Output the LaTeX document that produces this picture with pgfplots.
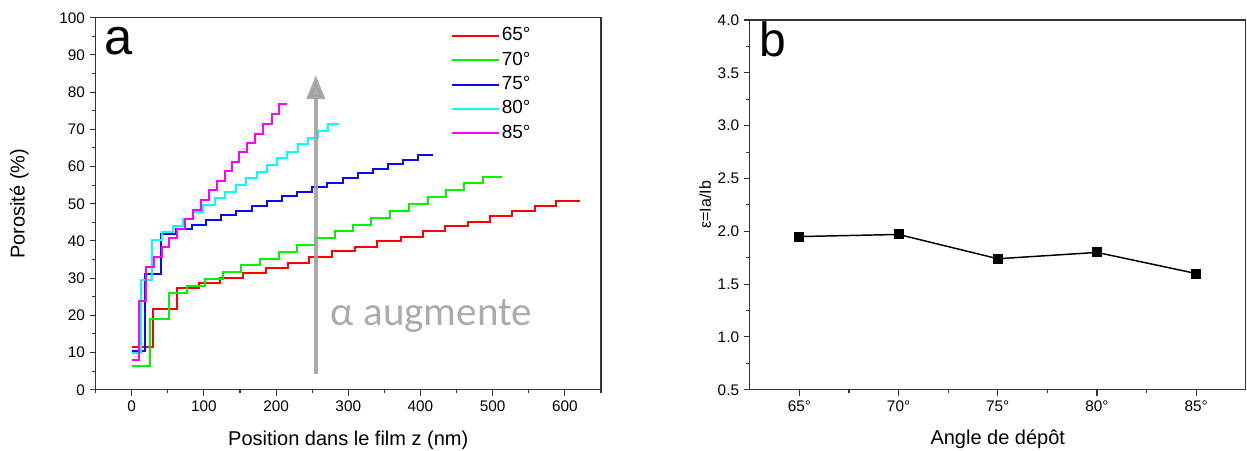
\documentclass[border=0pt]{standalone}
\usepackage{pgfplots}
\pgfplotsset{compat=1.18}
\usepackage{fontspec}
\setmainfont{Liberation Sans}
\newfontfamily\calfont{Carlito}
\usetikzlibrary{arrows.meta}
\definecolor{cred}{RGB}{255,0,0}
\definecolor{cgreen}{RGB}{0,245,0}
\definecolor{cblue}{RGB}{10,10,240}
\definecolor{ccyan}{RGB}{0,255,255}
\definecolor{cmag}{RGB}{255,0,255}
\pgfplotsset{myaxis/.style={
  scale only axis,
  axis line style={black!80, line width=0.9pt},
  tick align=outside, tick pos=left,
  major tick length=4.5pt, minor tick length=2.6pt,
  every tick/.style={black!80, line width=0.8pt},
  tick label style={font=\fontsize{11.5}{13}\selectfont},
  label style={font=\fontsize{15}{17}\selectfont},
  /pgf/number format/assume math mode=true,
}}
\begin{document}
\begin{tikzpicture}
\path[use as bounding box] (-71.7pt,-45.2pt) rectangle (863.5pt,292.3pt);
\begin{axis}[myaxis,
  at={(0pt,0pt)}, anchor=south west,
  width=379pt, height=279pt,
  xmin=-50, xmax=650, ymin=0, ymax=100,
  xtick={0,100,...,600}, minor xtick={-50,50,...,650},
  ytick={0,10,...,100}, minor ytick={5,15,...,95},
  xlabel={Position dans le film z (nm)},
  ylabel={Porosité (\%)},
  xlabel style={at={(axis description cs:0.5,-0.135)}, anchor=center},
  ylabel style={at={(axis description cs:-0.151,0.5)}, anchor=center, rotate=0},
  legend style={at={(rel axis cs:0.703,0.985)}, anchor=north west, draw=none, fill=none,
    font=\fontsize{14.25}{16}\selectfont, inner sep=0pt, row sep=0pt,
    nodes={inner ysep=2.4pt, inner xsep=1.5pt, text height=10.5pt, text depth=3pt}},
  legend cell align=left,
  legend image code/.code={\draw[#1, line width=1.5pt] (0pt,0pt) -- (35pt,0pt);},
]
\addplot[const plot, cred, line width=1.5pt] coordinates {
(0,11.6)(29,21.8)(63,27.4)(93,28.6)(122,30.0)(154,31.4)(186,32.8)(216,34.2)(246,35.6)(278,37.2)(309,38.4)(340,39.9)(373,41.1)(404,42.6)(434,43.9)(466,45.2)(496,46.6)(527,48.0)(558,49.5)(588,50.8)(621,50.8)};
\addplot[const plot, cgreen, line width=1.5pt] coordinates {
(0,6.3)(25,18.9)(51,26.1)(77,28.0)(102,29.8)(127,31.6)(152,33.5)(178,35.2)(204,37.1)(229,39.0)(254,40.8)(281,42.6)(307,44.4)(332,46.3)(358,48.1)(384,50.0)(410,51.9)(435,53.7)(460,55.5)(487,57.3)(513,57.3)};
\addplot[const plot, cblue, line width=1.5pt] coordinates {
(0,10.3)(19,31.1)(41,42.0)(62,43.2)(83,44.4)(103,45.7)(124,46.9)(145,48.1)(166,49.5)(187,50.8)(208,52.0)(229,53.2)(250,54.4)(271,55.6)(292,56.9)(313,58.2)(334,59.4)(355,60.6)(376,61.8)(397,63.1)(418,63.1)};
\addplot[const plot, ccyan, line width=1.5pt] coordinates {
(0,9.8)(13,29.6)(28,40.3)(42,42.3)(57,44.0)(71,46.0)(85,47.9)(99,49.7)(115,51.5)(129,53.2)(144,55.1)(158,56.8)(173,58.6)(187,60.4)(201,62.2)(215,64.0)(230,66.0)(244,67.8)(258,69.6)(272,71.4)(287,71.4)};
\addplot[const plot, cmag, line width=1.5pt] coordinates {
(0,8.0)(10,23.9)(20,33.1)(31,35.7)(42,38.3)(52,40.9)(63,43.2)(74,46.0)(85,48.4)(96,51.0)(107,53.7)(118,56.2)(129,58.9)(139,61.3)(149,63.8)(160,66.2)(171,68.7)(182,71.4)(194,74.1)(204,76.8)(215,76.8)};
\legend{65°,70°,75°,80°,85°}
\draw[-{Triangle[length=18pt,width=13.5pt]}, line width=3pt, draw=black!37, fill=black!37, opacity=0.9] (axis cs:255,4.2) -- (axis cs:255,84.6);
\node[anchor=base west, text=black!33, font=\calfont\fontsize{30.75}{32}\selectfont, inner sep=0pt] at (axis cs:275.6,17.4) {α augmente};
\node[anchor=base west, font=\fontsize{38}{40}\selectfont, inner sep=0pt] at (axis cs:-38.4,90) {a};
\end{axis}
\begin{axis}[myaxis,
  at={(490.6pt,0pt)}, anchor=south west,
  width=372pt, height=277.3pt,
  xmin=62.5, xmax=87.5, ymin=0.5, ymax=4.0,
  xtick={65,70,75,80,85}, xticklabels={65°,70°,75°,80°,85°},
  minor xtick={67.5,72.5,77.5,82.5},
  ytick={0.5,1.0,1.5,2.0,2.5,3.0,3.5,4.0},
  minor ytick={0.75,1.25,1.75,2.25,2.75,3.25,3.75},
  yticklabel style={/pgf/number format/.cd, fixed, fixed zerofill, precision=1},
  xlabel={Angle de dépôt},
  ylabel={ε=Ia/Ib},
  xlabel style={at={(axis description cs:0.5,-0.135)}, anchor=center},
  ylabel style={at={(axis description cs:-0.09,0.5)}, anchor=center, font=\fontsize{12}{14}\selectfont},
]
\addplot[black, line width=1.1pt, mark=square*, mark size=3.2pt] coordinates {
(65,1.95)(70,1.97)(75,1.74)(80,1.80)(85,1.60)};
\node[anchor=base west, font=\fontsize{36}{38}\selectfont, inner sep=0pt] at (axis cs:62.97,3.65) {b};
\end{axis}
\end{tikzpicture}
\end{document}
